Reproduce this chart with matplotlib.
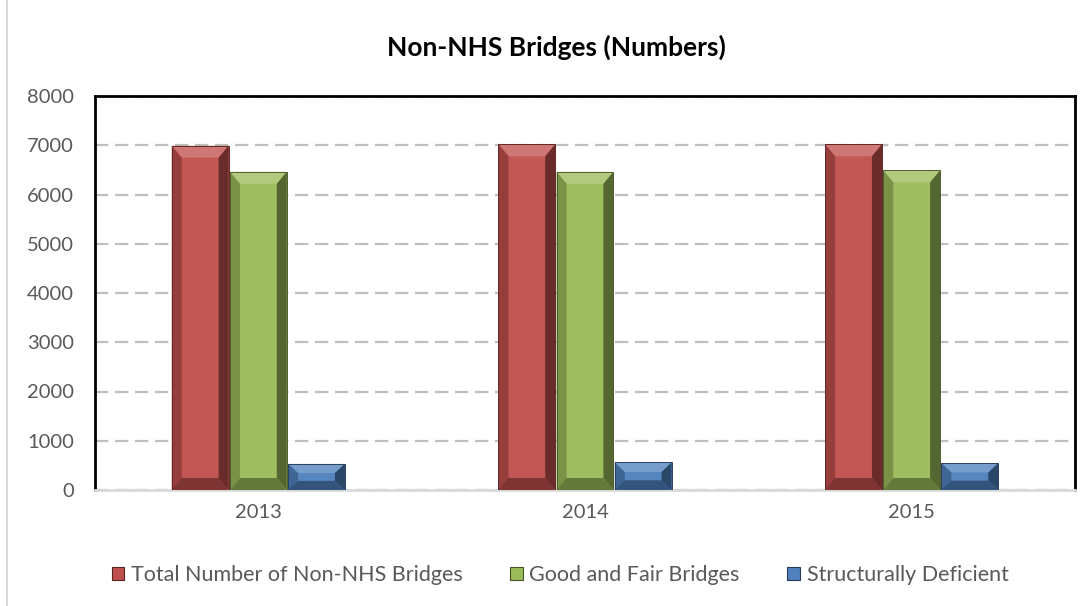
import matplotlib
matplotlib.use("Agg")
import matplotlib.pyplot as plt
from matplotlib.patches import Polygon, Rectangle
import numpy as np

years = ["2013", "2014", "2015"]
series_names = ["Total Number of Non-NHS Bridges", "Good and Fair Bridges", "Structurally Deficient"]
total_bridges = [6990, 7020, 7020]
good_fair = [6460, 6460, 6490]
deficient = [530, 560, 545]
y_ticks = [0, 1000, 2000, 3000, 4000, 5000, 6000, 7000, 8000]

face_colors = ["#C0504D", "#9BBB59", "#4F81BD"]

W, H = 1092, 606
fig = plt.figure(figsize=(W / 100, H / 100), dpi=100)
fig.patch.set_facecolor("white")

# light outer chart border
fig.add_artist(Rectangle((7 / W, -0.01), 1.2, 1.2, transform=fig.transFigure,
                         fill=False, edgecolor="#D9D9D9", linewidth=1.5))

ax = fig.add_axes([95 / W, 1 - 490 / H, (1075 - 95) / W, (490 - 96) / H])
ax.set_xlim(-0.5, 2.5)
ax.set_ylim(0, 8000)
ax.set_yticks(y_ticks)
ax.set_yticklabels([str(t) for t in y_ticks])
ax.set_xticks(range(len(years)))
ax.set_xticklabels(years)

FONT = "Lato"
for lab in ax.get_xticklabels() + ax.get_yticklabels():
    lab.set_fontfamily(FONT)
    lab.set_fontsize(14.5)
    lab.set_color("#595959")
ax.tick_params(axis="both", length=0)
ax.tick_params(axis="y", pad=15)
ax.tick_params(axis="x", pad=10)

for side in ["left", "top", "right"]:
    ax.spines[side].set_color("black")
    ax.spines[side].set_linewidth(2)
ax.spines["bottom"].set_color("#D9D9D9")
ax.spines["bottom"].set_linewidth(2)

ax.yaxis.grid(True, color="#BFBFBF", linestyle=(0, (6, 3)), linewidth=1.6)
ax.set_axisbelow(True)

series = [total_bridges, good_fair, deficient]
bar_w = 0.178

# data units per pixel, for the bevel geometry
px_x = 3.0 / (1075 - 95)
px_y = 8000.0 / (490 - 96)


def shade(hex_color, f):
    c = np.array(matplotlib.colors.to_rgb(hex_color))
    if f >= 1:
        c = c + (1 - c) * (f - 1)
    else:
        c = c * f
    return tuple(np.clip(c, 0, 1))


def bevel_bar(x0, x1, h, color):
    dx = 10 * px_x
    dy = min(12 * px_y, h * 0.35)
    z = 3
    # front face
    ax.add_patch(Rectangle((x0, 0), x1 - x0, h, facecolor=color, edgecolor="none", zorder=z))
    ax.add_patch(Rectangle((x0 + dx, dy), x1 - x0 - 2 * dx, h - 2 * dy,
                           facecolor=shade(color, 1.04), edgecolor="none", zorder=z))
    # top bevel (lit)
    ax.add_patch(Polygon([(x0, h), (x1, h), (x1 - dx, h - dy), (x0 + dx, h - dy)],
                         closed=True, facecolor=shade(color, 1.22), edgecolor="none", zorder=z + 1))
    # left bevel
    ax.add_patch(Polygon([(x0, 0), (x0, h), (x0 + dx, h - dy), (x0 + dx, dy)],
                         closed=True, facecolor=shade(color, 0.78), edgecolor="none", zorder=z + 1))
    # right bevel (shadow)
    ax.add_patch(Polygon([(x1, 0), (x1, h), (x1 - dx, h - dy), (x1 - dx, dy)],
                         closed=True, facecolor=shade(color, 0.55), edgecolor="none", zorder=z + 1))
    # bottom bevel
    ax.add_patch(Polygon([(x0, 0), (x1, 0), (x1 - dx, dy), (x0 + dx, dy)],
                         closed=True, facecolor=shade(color, 0.65), edgecolor="none", zorder=z + 1))
    ax.add_patch(Rectangle((x0, 0), x1 - x0, h, fill=False,
                           edgecolor=shade(color, 0.5), linewidth=0.7, zorder=z + 2))


for si, (vals, col) in enumerate(zip(series, face_colors)):
    for ci, v in enumerate(vals):
        cx = ci + (si - 1) * bar_w
        bevel_bar(cx - bar_w / 2 + 0.002, cx + bar_w / 2 - 0.002, v, col)

# title
fig.text(556 / W, 1 - 47 / H, "Non-NHS Bridges (Numbers)", ha="center", va="center",
         fontfamily=FONT, fontweight="bold", fontsize=19, color="black")

# legend
handles = [Rectangle((0, 0), 1, 1, facecolor=c, edgecolor=shade(c, 0.45), linewidth=0.8)
           for c in face_colors]
leg = fig.legend(handles, series_names, loc="center", bbox_to_anchor=(560 / W, 1 - 575 / H),
                 ncol=3, frameon=False, prop={"family": FONT, "size": 15.5},
                 handlelength=0.6, handleheight=0.6, handletextpad=0.3, columnspacing=2.2)
for t in leg.get_texts():
    t.set_color("#595959")

fig.savefig("out.png", dpi=100, facecolor="white")
